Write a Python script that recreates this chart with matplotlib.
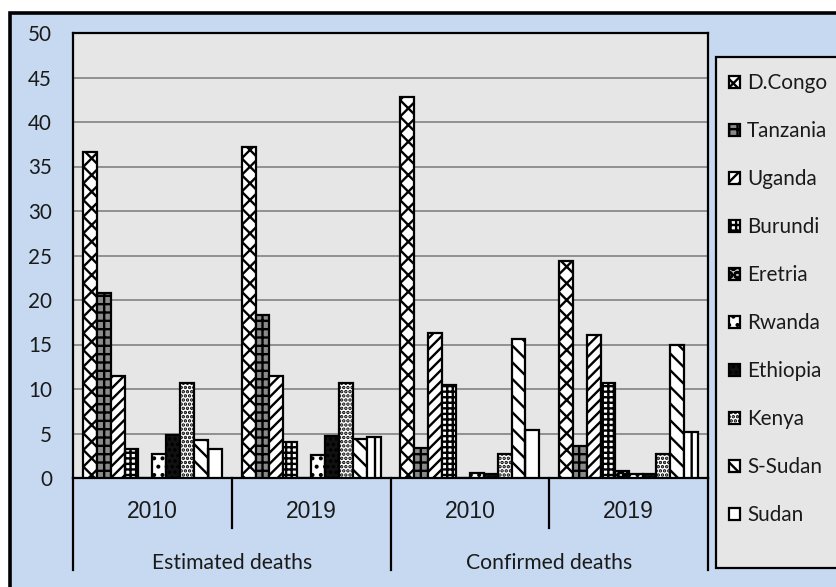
import matplotlib
matplotlib.use("Agg")
import matplotlib.pyplot as plt
import matplotlib.patches as mpatches
import matplotlib.transforms as mtransforms
from matplotlib import font_manager
import numpy as np

# ---- data ----
countries = ["D.Congo", "Tanzania", "Uganda", "Burundi", "Eretria",
             "Rwanda", "Ethiopia", "Kenya", "S-Sudan", "Sudan"]
years = ["2010", "2019", "2010", "2019"]
groups = ["Estimated deaths", "Confirmed deaths"]
est_2010 = [36.6, 20.8, 11.5, 3.3, 0.0, 2.7, 4.8, 10.7, 4.25, 3.3]
est_2019 = [37.2, 18.3, 11.5, 4.1, 0.0, 2.6, 4.7, 10.7, 4.4, 4.6]
conf_2010 = [42.8, 3.4, 16.3, 10.5, 0.0, 0.6, 0.4, 2.7, 15.6, 5.4]
conf_2019 = [24.4, 3.6, 16.1, 10.7, 0.8, 0.4, 0.5, 2.7, 14.9, 5.2]
yticks = [0, 5, 10, 15, 20, 25, 30, 35, 40, 45, 50]

series_by_cat = [est_2010, est_2019, conf_2010, conf_2019]

# ---- styles ----
hatches = ["xx", "++", "///", "+++", "OO", "..", "...", "....", "\\\\", "|"]
faces = ["white", "#8a8a8a", "white", "white", "#bbbbbb", "white", "#111111",
         "white", "white", "white"]
BLUE = "#C6D9F1"
PLOT_BG = "#E6E6E6"
TXT = "#1A1A1A"

available = {f.name for f in font_manager.fontManager.ttflist}
NARROW = next((f for f in ["Liberation Sans Narrow", "Lato", "Open Sans",
                           "Noto Sans", "DejaVu Sans"] if f in available),
              "DejaVu Sans")

plt.rcParams["hatch.linewidth"] = 1.7
W, H = 836, 587
fig = plt.figure(figsize=(W / 100, H / 100), dpi=100, facecolor="white")
renderer = fig.canvas.get_renderer()


def fit_size(text, family, target_px, base=18):
    t = fig.text(0, 0, text, fontsize=base, family=family)
    w = t.get_window_extent(renderer).width
    t.remove()
    return base * target_px / w


# outer blue panel with black border
fig.patches.append(mpatches.Rectangle((10 / W, -0.2), 1.2, 1 - 12.5 / H + 0.2,
                                      transform=fig.transFigure,
                                      facecolor=BLUE, edgecolor="black",
                                      linewidth=2.6, zorder=-10))

L, R, T, B = 73, 708, 33, 478
ax = fig.add_axes([L / W, 1 - B / H, (R - L) / W, (B - T) / H])
ax.set_facecolor(PLOT_BG)

ncat = len(years)
nser = len(countries)
bw = 0.0875
x = np.arange(ncat)
handles = []
for i, name in enumerate(countries):
    vals = [series_by_cat[c][i] for c in range(ncat)]
    offs = (i - (nser - 1) / 2) * bw
    bars = ax.bar(x + offs, vals, width=bw, facecolor=faces[i],
                  edgecolor="black", linewidth=1.6, hatch=hatches[i],
                  label=name, zorder=3)
    handles.append(bars)

ax.set_xlim(-0.5, ncat - 0.5)
ax.set_ylim(0, 50)
ax.set_yticks(yticks)
ysize = fit_size("50", NARROW, 24)
ax.set_yticklabels([str(v) for v in yticks], fontsize=ysize,
                   family=NARROW, color=TXT)
ax.tick_params(axis="y", length=0, pad=15)
ax.set_xticks([])
ax.yaxis.grid(True, color="#8A8A8A", linewidth=1.3, zorder=0)
ax.set_axisbelow(True)
for s in ax.spines.values():
    s.set_color("black")
    s.set_linewidth(1.6)

# category axis (multi-level)
trans = mtransforms.blended_transform_factory(ax.transData, ax.transAxes)
ah = B - T
for k in range(ncat + 1):
    xb = k - 0.5
    depth = 92 if k in (0, 2, 4) else 50
    ax.plot([xb, xb], [0, -depth / ah], transform=trans, color="black",
            linewidth=1.6, clip_on=False)
yr_size = fit_size("2010", "Liberation Sans", 51)
for k in range(ncat):
    ax.text(k, -34 / ah, years[k], transform=trans, ha="center", va="center",
            fontsize=yr_size, family="Liberation Sans", color=TXT)
grp_size = fit_size("Confirmed deaths", NARROW, 165)
for g in range(len(groups)):
    ax.text(2 * g + 0.5, -85 / ah, groups[g], transform=trans, ha="center",
            va="center", fontsize=grp_size, family=NARROW, color=TXT)

# legend frame
fig.patches.append(mpatches.Rectangle((716 / W, 1 - 568 / H), 0.3,
                                      (568 - 57) / H,
                                      transform=fig.transFigure,
                                      facecolor=PLOT_BG, edgecolor="black",
                                      linewidth=1.6, zorder=-5))
leg_size = fit_size("Tanzania", NARROW, 80)
fs_px = leg_size * 100 / 72


def make_legend(spacing, top_px, left_px):
    lg = fig.legend(handles=handles, labels=countries, loc="upper left",
                    bbox_to_anchor=(left_px / W, 1 - top_px / H), frameon=False,
                    prop={"family": NARROW, "size": leg_size},
                    handlelength=11 / fs_px, handleheight=11 / fs_px,
                    handletextpad=7 / fs_px,
                    labelspacing=spacing, borderpad=0, borderaxespad=0)
    for t in lg.get_texts():
        t.set_color(TXT)
    return lg


spacing, top_px, left_px = 0.8, 68, 729
leg = make_legend(spacing, top_px, left_px)
for _ in range(3):
    fig.canvas.draw()
    texts = leg.get_texts()
    e0 = texts[0].get_window_extent(renderer)
    e1 = texts[-1].get_window_extent(renderer)
    c0 = H - (e0.y0 + e0.y1) / 2
    c1 = H - (e1.y0 + e1.y1) / 2
    pitch = (c1 - c0) / (len(texts) - 1)
    spacing += (48 - pitch) / fs_px
    top_px += 83 - c0
    left_px += 747 - e0.x0
    leg.remove()
    leg = make_legend(spacing, top_px, left_px)

fig.savefig("out.png", dpi=100, facecolor=fig.get_facecolor())
